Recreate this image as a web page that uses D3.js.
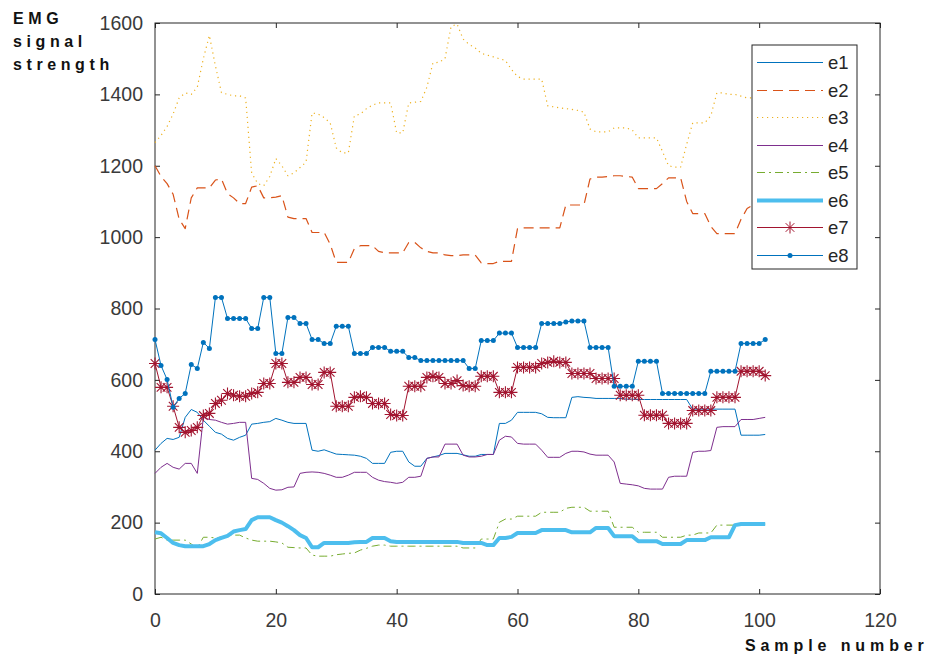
<!DOCTYPE html>
<html>
<head>
<meta charset="utf-8">
<script src="https://cdn.jsdelivr.net/npm/d3@7"></script>
<style>
body { margin: 0; background: #fff; }
text { font-family: "Liberation Sans", Arial, sans-serif; }
</style>
</head>
<body>
<script>
const width = 934;
const height = 661;
const margin = {top: 23, right: 54, bottom: 67, left: 155};

// EMG channel readings, one value per sample (0..101)
const e1 = [403,422,436,433,439,495,517,509,487,470,453,448,436,431,439,445,476,478,481,483,
	492,487,481,478,478,478,403,400,404,398,392,391,390,389,386,380,366,366,366,397,
	400,400,370,358,358,380,384,388,394,394,394,390,386,386,391,391,391,478,478,487,
	509,509,509,509,505,495,494,494,494,551,553,551,550,548,548,548,548,548,546,546,
	545,545,545,545,545,545,545,545,545,518,518,518,518,518,518,518,518,445,445,445,
	445,447];
const e2 = [1200,1170,1150,1120,1050,1024,1110,1138,1138,1138,1160,1163,1122,1110,1094,1094,1140,1144,1110,1110,
	1112,1116,1056,1052,1052,1052,1013,1013,1013,980,929,929,929,968,976,976,976,960,956,956,
	956,956,985,985,970,960,956,956,950,948,948,950,950,950,928,926,926,932,932,932,
	1024,1026,1026,1026,1026,1026,1026,1026,1090,1090,1090,1090,1163,1168,1168,1170,1172,1172,1170,1168,
	1136,1136,1136,1136,1150,1166,1166,1166,1100,1066,1066,1066,1030,1010,1010,1010,1010,1050,1080,1090,
	1100,1100];
const e3 = [1265,1285,1310,1345,1390,1404,1400,1420,1500,1565,1480,1405,1400,1396,1396,1390,1180,1150,1144,1170,
	1220,1200,1172,1180,1195,1210,1348,1345,1335,1320,1250,1236,1236,1340,1345,1360,1370,1376,1376,1376,
	1292,1292,1376,1378,1380,1420,1488,1490,1500,1590,1597,1555,1540,1530,1515,1510,1505,1500,1495,1470,
	1450,1443,1443,1443,1443,1368,1365,1362,1360,1358,1355,1350,1303,1295,1295,1295,1306,1306,1306,1300,
	1278,1278,1278,1278,1240,1200,1196,1196,1260,1320,1320,1320,1340,1404,1404,1400,1400,1395,1390,1390,
	1390,1390];
const e4 = [338,355,366,355,350,366,366,338,495,489,487,481,476,478,481,481,324,321,310,296,
	291,292,299,300,338,341,342,341,338,333,327,327,333,341,341,341,327,319,315,313,
	310,313,327,327,330,380,384,384,420,420,420,389,384,384,386,391,391,431,442,440,
	422,420,420,420,403,383,383,383,394,400,400,398,392,389,389,389,370,310,308,306,
	303,296,294,294,294,327,330,330,330,397,400,400,402,467,469,469,469,489,489,489,
	492,495];
const e5 = [154,159,151,151,151,151,140,129,159,159,157,160,163,165,165,157,151,148,148,148,
	146,143,131,130,129,129,109,106,106,106,110,112,114,115,123,128,134,137,137,134,
	134,134,134,134,134,134,134,134,134,134,134,129,129,129,154,154,154,201,210,210,
	218,218,218,218,229,229,229,229,240,243,243,243,232,232,232,232,187,187,187,187,
	173,173,173,173,159,159,159,159,165,165,171,171,171,193,193,193,193,196,196,196,
	196,196];
const e6 = [173,170,157,143,137,134,134,134,134,140,151,157,163,175,179,182,207,215,215,215,
	207,200,190,179,165,157,131,131,143,143,143,143,143,145,146,146,157,157,157,148,
	146,146,146,146,146,146,146,146,146,146,146,143,143,143,143,137,137,157,157,160,
	171,171,171,171,179,179,179,179,179,173,173,173,173,185,185,185,162,162,162,162,
	148,148,148,148,140,140,140,140,151,151,151,151,159,159,159,159,193,196,196,196,
	196,196];
const e7 = [646,579,579,526,467,453,458,467,500,506,534,543,562,557,554,554,562,565,590,590,
	646,646,593,593,607,607,587,587,621,621,526,526,526,551,554,551,534,534,534,503,
	500,500,582,582,582,607,610,607,590,590,598,584,582,582,610,610,610,565,565,565,
	635,635,635,635,646,649,652,649,649,618,618,618,618,604,604,604,604,557,557,557,
	557,501,501,501,501,478,478,478,478,514,514,514,514,551,551,551,551,624,624,624,
	624,612];
const e8 = [713,640,601,523,548,562,643,632,705,688,831,831,772,772,772,772,744,744,831,831,
	674,674,775,775,758,758,713,713,702,702,750,750,750,674,674,674,691,691,691,680,
	680,680,663,663,654,654,654,654,654,654,654,654,632,632,710,710,710,731,731,731,
	691,691,691,691,758,758,758,758,762,765,765,765,691,691,691,691,582,582,582,582,
	652,652,652,652,562,562,562,562,562,562,562,562,624,624,624,624,624,702,702,702,
	702,713];

const seriesNames = ["e1", "e2", "e3", "e4", "e5", "e6", "e7", "e8"];
const seriesValues = [e1, e2, e3, e4, e5, e6, e7, e8];
const xTicks = [0, 20, 40, 60, 80, 100, 120];
const yTicks = [0, 200, 400, 600, 800, 1000, 1200, 1400, 1600];

// matlab-ish line styles
const styles = {
	e1: {color: "#0072BD", w: 1, dash: null},
	e2: {color: "#D95319", w: 1.2, dash: "10,6"},
	e3: {color: "#EDB120", w: 1.2, dash: "1.2,3.8"},
	e4: {color: "#7E2F8E", w: 1, dash: null},
	e5: {color: "#77AC30", w: 1, dash: "8,4,2,4"},
	e6: {color: "#4DBEEE", w: 4, dash: null},
	e7: {color: "#A2142F", w: 1, dash: null, marker: "star"},
	e8: {color: "#0072BD", w: 1, dash: null, marker: "dot"}
};

const x = d3.scaleLinear().domain([0, 120]).range([margin.left, width - margin.right]);
const y = d3.scaleLinear().domain([0, 1600]).range([height - margin.bottom, margin.top]);

const svg = d3.select("body").append("svg")
	.attr("width", width)
	.attr("height", height);

// axes (ticks point inward)
const axisColor = "#262626";
const fmt = d3.format("d");
const gx = svg.append("g")
	.attr("transform", `translate(0,${y(0)})`)
	.call(d3.axisBottom(x).tickValues(xTicks).tickFormat(fmt).tickSize(-5).tickSizeOuter(0).tickPadding(19));
const gy = svg.append("g")
	.attr("transform", `translate(${x(0)},0)`)
	.call(d3.axisLeft(y).tickValues(yTicks).tickFormat(fmt).tickSize(-5).tickSizeOuter(0).tickPadding(12));
const gt = svg.append("g")
	.attr("transform", `translate(0,${y(1600)})`)
	.call(d3.axisTop(x).tickValues(xTicks).tickSize(-5).tickSizeOuter(0).tickFormat(""));
const gr = svg.append("g")
	.attr("transform", `translate(${x(120)},0)`)
	.call(d3.axisRight(y).tickValues(yTicks).tickSize(-5).tickSizeOuter(0).tickFormat(""));

[gx, gy, gt, gr].forEach(g => {
	g.select(".domain").remove();
	g.selectAll(".tick line").attr("stroke", axisColor);
	g.selectAll(".tick text")
		.attr("fill", "#3a3a3a")
		.style("font-size", "19.5px")
		.style("font-family", "'Liberation Sans', Arial, sans-serif");
});

svg.append("rect")
	.attr("x", x(0)).attr("y", y(1600))
	.attr("width", x(120) - x(0)).attr("height", y(0) - y(1600))
	.attr("fill", "none").attr("stroke", axisColor).attr("stroke-width", 1);

// lines
const line = d3.line()
	.x((d, i) => x(i))
	.y(d => y(d));

function starPath(cx, cy, r) {
	const d = r * 0.72;
	return `M${cx - r},${cy}L${cx + r},${cy}M${cx},${cy - r}L${cx},${cy + r}` +
		`M${cx - d},${cy - d}L${cx + d},${cy + d}M${cx - d},${cy + d}L${cx + d},${cy - d}`;
}

seriesNames.forEach((name, k) => {
	const st = styles[name];
	const vals = seriesValues[k];
	svg.append("path")
		.datum(vals)
		.attr("fill", "none")
		.attr("stroke", st.color)
		.attr("stroke-width", st.w)
		.attr("stroke-dasharray", st.dash)
		.attr("stroke-linejoin", "round")
		.attr("d", line);
	if (st.marker === "star") {
		svg.append("g").selectAll("path")
			.data(vals).enter().append("path")
			.attr("d", (d, i) => starPath(x(i), y(d), 6))
			.attr("stroke", st.color)
			.attr("stroke-width", 1.1)
			.attr("fill", "none");
	}
	if (st.marker === "dot") {
		svg.append("g").selectAll("circle")
			.data(vals).enter().append("circle")
			.attr("cx", (d, i) => x(i))
			.attr("cy", d => y(d))
			.attr("r", 2.5)
			.attr("fill", st.color);
	}
});

// legend
const legend = svg.append("g").attr("transform", "translate(752,45)");
legend.append("rect")
	.attr("width", 105).attr("height", 224)
	.attr("fill", "#fff").attr("stroke", axisColor).attr("stroke-width", 1);
seriesNames.forEach((name, k) => {
	const st = styles[name];
	const ly = Math.round(17 + k * 27.5) + 0.5;
	legend.append("line")
		.attr("x1", 5).attr("x2", 71).attr("y1", ly).attr("y2", ly)
		.attr("stroke", st.color).attr("stroke-width", st.w)
		.attr("stroke-dasharray", st.dash);
	if (st.marker === "star") {
		legend.append("path").attr("d", starPath(38, ly, 6))
			.attr("stroke", st.color).attr("fill", "none");
	}
	if (st.marker === "dot") {
		legend.append("circle").attr("cx", 38).attr("cy", ly).attr("r", 2.5).attr("fill", st.color);
	}
	legend.append("text")
		.attr("x", 76).attr("y", ly + 6.5)
		.attr("fill", "#262626")
		.style("font-size", "18.5px")
		.text(name);
});

// axis labels
const yLabel = svg.append("text")
	.attr("x", 13).attr("y", 24)
	.attr("font-weight", "bold")
	.style("font-size", "16px")
	.style("letter-spacing", "4.6px")
	.attr("fill", "#111");
["EMG", "signal", "strength"].forEach((t, i) => {
	yLabel.append("tspan").attr("x", 13).attr("y", 24 + i * 23).text(t);
});

svg.append("text")
	.attr("x", 745).attr("y", 651)
	.attr("font-weight", "bold")
	.style("font-size", "16px")
	.style("letter-spacing", "4.9px")
	.attr("fill", "#111")
	.text("Sample number");
</script>
</body>
</html>
